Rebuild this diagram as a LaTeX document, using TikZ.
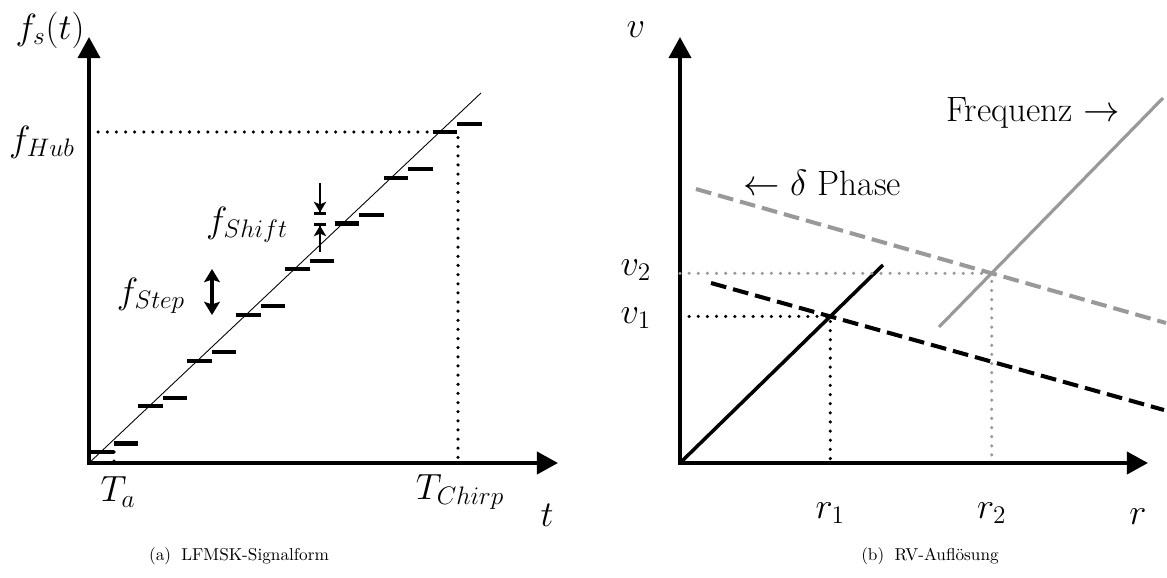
\documentclass[tikz,border=0pt]{standalone}
\usetikzlibrary{arrows.meta}
\definecolor{lightline}{gray}{0.6}
\begin{document}
\begin{tikzpicture}[x=0.02cm, y=-0.02cm,
    >={Triangle[length=12pt,width=12.5pt]},
    axis/.style={line width=2.3pt, <->},
    stepdash/.style={line width=2.3pt},
    guide/.style={line width=2pt, line cap=round, dash pattern=on 0pt off 5.2pt},
    lbl/.style={font=\fontsize{20}{24}\selectfont},
    capt/.style={font=\fontsize{9.8}{12}\selectfont}]
    \useasboundingbox (0,0) rectangle (1167,578);

    % Left: axes
    \coordinate (O1) at (89,463);
    \draw[axis] (89,37) -- (O1) -- (558,463);

    % Points
    \coordinate (Ta) at (114,452);
    \coordinate (Hub) at (458,132);
    \coordinate (Dend) at (481,93);

    % Lines
    \draw[line width=0.5pt] (O1) -- (Dend);
    \foreach \k in {0,...,7} {
        \draw[stepdash] ({89+49.1*\k},{452-45.7*\k}) -- ++(24.5,0);
        \draw[stepdash] ({113.5+49.1*\k},{443.5-45.7*\k}) -- ++(24.5,0);
    }
    \draw[guide] (O1 |- Hub) -- (Hub) -- (Hub |- O1);
    \draw[guide] (Ta) -- (Ta |- O1);

    % f_Step and f_Shift
    \draw[line width=2.2pt, {Stealth[length=7.5pt,width=9pt,inset=1.5pt]}-{Stealth[length=7.5pt,width=9pt,inset=1.5pt]}] (212,269) -- (212,315);
    \draw[line width=1.5pt, -{Stealth[length=6pt,width=7pt,inset=1.5pt] Bar[width=7pt]}] (320,183) -- (320,215);
    \draw[line width=1.5pt, -{Stealth[length=6pt,width=7pt,inset=1.5pt] Bar[width=7pt]}] (320,252) -- (320,223);

    % Labels
    \node[lbl] (fs) at (50,30) {$f_s(t)$};
    \node[lbl] (fhub) at (42,142) {$f_{Hub}$};
    \node[lbl] (fstep) at (151,296) {$f_{Step}$};
    \node[lbl] (fshift) at (247,225) {$f_{Shift}$};
    \node[lbl] (ta) at (118,492) {$T_a$};
    \node[lbl] (tchirp) at (460,492) {$T_{Chirp}$};
    \node[lbl] (t) at (547,515) {$t$};

    % Right: axes
    \coordinate (O2) at (680,463);
    \draw[axis] (680,37) -- (O2) -- (1148,463);

    % Points
    \coordinate (F1) at (883,265);
    \coordinate (D1a) at (711,283);
    \coordinate (D1b) at (1164,410);
    \coordinate (D2a) at (696,189);
    \coordinate (D2b) at (1166,323);
    \coordinate (F2a) at (939,327);
    \coordinate (F2b) at (1163,98);
    \coordinate (P1) at (intersection of O2--F1 and D1a--D1b);
    \coordinate (P2) at (intersection of F2a--F2b and D2a--D2b);

    % Lines
    \draw[line width=2pt] (O2) -- (F1);
    \draw[line width=2.3pt, dash pattern=on 9pt off 4pt] (D1a) -- (D1b);
    \draw[line width=2.3pt, lightline, dash pattern=on 9pt off 4pt] (D2a) -- (D2b);
    \draw[line width=1.8pt, lightline] (F2a) -- (F2b);
    \draw[guide] (O2 |- P1) -- (P1) -- (P1 |- O2);
    \draw[guide, lightline] (O2 |- P2) -- (P2) -- (P2 |- O2);

    % Labels
    \node[lbl] (v) at (636,30) {$v$};
    \node[lbl] (v2) at (636,270) {$v_2$};
    \node[lbl] (v1) at (636,318) {$v_1$};
    \node[lbl] (r1) at (P1 |- 0,513) {$r_1$};
    \node[lbl] (r2) at (P2 |- 0,513) {$r_2$};
    \node[lbl] (r) at (1138,517) {$r$};
    \node[lbl] (freq) at (1033,113) {Frequenz $\rightarrow$};
    \node[lbl] (phase) at (822,183) {$\leftarrow$ $\delta$ Phase};

    % Captions
    \node[capt] (capa) at (239,556) {(a)\hspace{0.6em}LFMSK-Signalform};
    \node[capt] (capb) at (930,556) {(b)\hspace{0.6em}RV-Auflösung};
\end{tikzpicture}
\end{document}
